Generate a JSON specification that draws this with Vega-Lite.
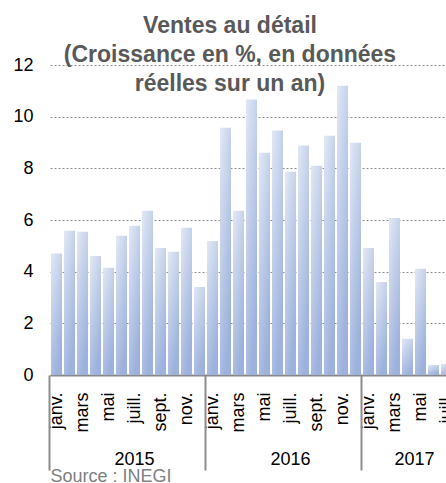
{
  "$schema": "https://vega.github.io/schema/vega-lite/v6.json",
  "width": 396,
  "height": 310,
  "autosize": "none",
  "padding": {"left": 50, "top": 65, "right": 0, "bottom": 108},
  "background": "white",
  "config": {"view": {"stroke": null}, "font": "Liberation Sans"},
  "title": {
    "text": ["Ventes au détail", "(Croissance en %, en données", "réelles sur un an)"],
    "font": "Liberation Sans",
    "fontSize": 23,
    "fontWeight": "bold",
    "color": "#595959",
    "lineHeight": 29,
    "frame": "group",
    "anchor": "middle",
    "offset": -40,
    "dx": -18
  },
  "data": {
    "values": [
      {"date": "2015-01", "value": 4.7},
      {"date": "2015-02", "value": 5.58},
      {"date": "2015-03", "value": 5.55},
      {"date": "2015-04", "value": 4.61},
      {"date": "2015-05", "value": 4.15},
      {"date": "2015-06", "value": 5.39},
      {"date": "2015-07", "value": 5.78},
      {"date": "2015-08", "value": 6.36},
      {"date": "2015-09", "value": 4.92},
      {"date": "2015-10", "value": 4.77},
      {"date": "2015-11", "value": 5.7},
      {"date": "2015-12", "value": 3.41},
      {"date": "2016-01", "value": 5.19},
      {"date": "2016-02", "value": 9.57},
      {"date": "2016-03", "value": 6.36},
      {"date": "2016-04", "value": 10.66},
      {"date": "2016-05", "value": 8.6},
      {"date": "2016-06", "value": 9.46},
      {"date": "2016-07", "value": 7.87},
      {"date": "2016-08", "value": 8.88},
      {"date": "2016-09", "value": 8.1},
      {"date": "2016-10", "value": 9.26},
      {"date": "2016-11", "value": 11.2},
      {"date": "2016-12", "value": 8.99},
      {"date": "2017-01", "value": 4.92},
      {"date": "2017-02", "value": 3.6},
      {"date": "2017-03", "value": 6.08},
      {"date": "2017-04", "value": 1.4},
      {"date": "2017-05", "value": 4.11},
      {"date": "2017-06", "value": 0.39},
      {"date": "2017-07", "value": 0.43}
    ]
  },
  "encoding": {
    "y": {
      "field": "value",
      "type": "quantitative",
      "scale": {"domain": [0, 12], "nice": false},
      "axis": {
        "title": null,
        "values": [0, 2, 4, 6, 8, 10, 12],
        "domain": false,
        "ticks": false,
        "labelPadding": 17,
        "labelFontSize": 18,
        "labelFont": "Liberation Sans",
        "labelColor": "#000000",
        "grid": true,
        "gridColor": "#8c8c8c",
        "gridDash": [2, 2],
        "gridWidth": 1
      }
    }
  },
  "layer": [
    {
      "mark": {
        "type": "bar",
        "color": {
          "gradient": "linear",
          "x1": 0, "y1": 0, "x2": 0.5, "y2": 1,
          "stops": [
            {"offset": 0, "color": "#e2e8f5"},
            {"offset": 1, "color": "#9db1dc"}
          ]
        }
      },
      "encoding": {
        "x": {
          "field": "date",
          "type": "ordinal",
          "sort": "ascending",
          "scale": {"range": [0, 403], "paddingInner": 0.15, "paddingOuter": 0.075},
          "axis": {
            "orient": "bottom",
            "title": null,
            "ticks": false,
            "grid": false,
            "domain": true,
            "domainColor": "#898989",
            "domainWidth": 2,
            "labelAngle": -90,
            "labelPadding": 17,
            "labelFontSize": 18,
            "labelFont": "Liberation Sans",
            "labelColor": "#000000",
            "labelOverlap": false,
            "labelExpr": "['janv.','','mars','','mai','','juill.','','sept.','','nov.',''][toNumber(substring(datum.value,5,7))-1]"
          }
        }
      }
    },
    {
      "mark": {"type": "bar", "opacity": 0},
      "encoding": {
        "x": {
          "field": "date",
          "type": "ordinal",
          "sort": "ascending",
          "scale": {"range": [0, 403], "paddingInner": 0.15, "paddingOuter": 0.075},
          "axis": {
            "orient": "bottom",
            "domain": false,
            "grid": false,
            "bandPosition": -0.09,
            "ticks": true,
            "tickSize": 95,
            "tickWidth": 2,
            "tickColor": "#8c8c8c",
            "tickOpacity": {"condition": {"test": "substring(datum.value,5,7) === '01'", "value": 1}, "value": 0},
            "labelExpr": "datum.value === '2015-07' ? '2015' : datum.value === '2016-07' ? '2016' : datum.value === '2017-05' ? '2017' : ''",
            "labelOffset": {"condition": {"test": "datum.value === '2017-05'", "value": -6}, "value": 0},
            "labelAngle": 0,
            "labelAlign": "center",
            "labelBaseline": "alphabetic",
            "labelPadding": -6,
            "labelFontSize": 18,
            "labelFont": "Liberation Sans",
            "labelColor": "#000000",
            "labelOverlap": false,
            "title": "Source : INEGI",
            "titleFont": "Liberation Sans",
            "titleFontSize": 18,
            "titleFontWeight": "normal",
            "titleColor": "#808080",
            "titleAnchor": "start",
            "titleAlign": "left",
            "titleBaseline": "alphabetic",
            "titleX": 0,
            "titleY": 106
          }
        }
      }
    }
  ],
  "resolve": {"axis": {"x": "independent"}}
}
